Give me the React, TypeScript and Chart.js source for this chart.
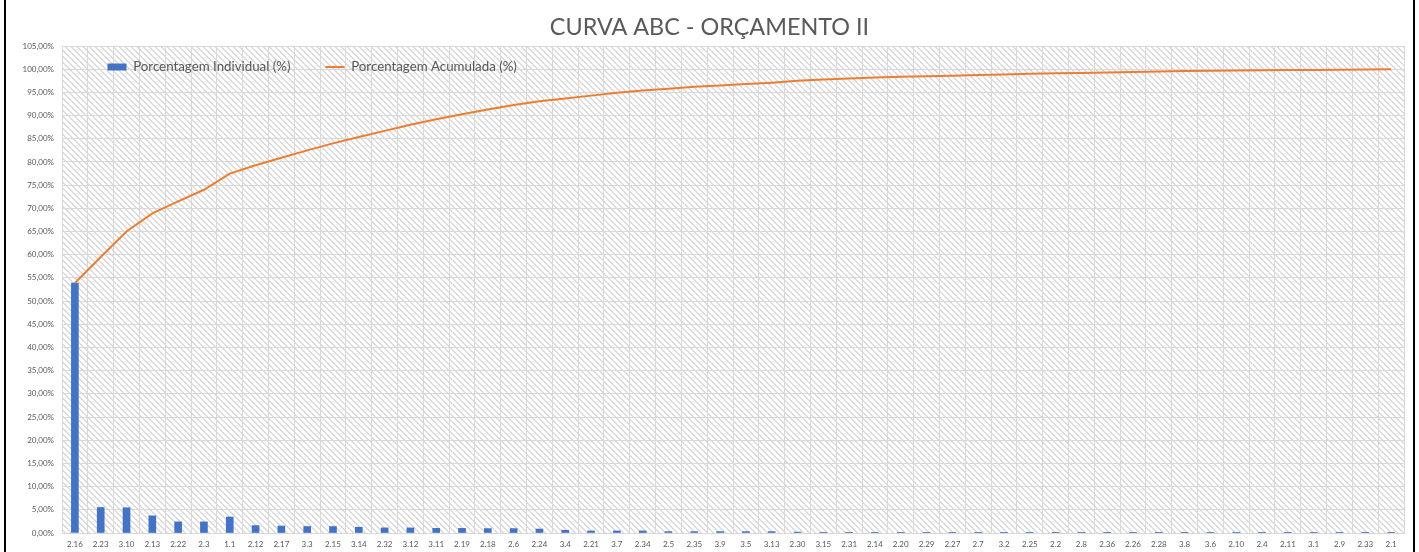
import React, { useEffect, useRef } from 'react';
import { Chart, registerables } from 'chart.js';

Chart.register(...registerables);

const TITLE = 'CURVA ABC - ORÇAMENTO II';
const BAR_LABEL = 'Porcentagem Individual (%)';
const LINE_LABEL = 'Porcentagem Acumulada (%)';

const categories = [
  '2.16', '2.23', '3.10', '2.13', '2.22', '2.3', '1.1', '2.12', '2.17', '3.3',
  '2.15', '3.14', '2.32', '3.12', '3.11', '2.19', '2.18', '2.6', '2.24', '3.4',
  '2.21', '3.7', '2.34', '2.5', '2.35', '3.9', '3.5', '3.13', '2.30', '3.15',
  '2.31', '2.14', '2.20', '2.29', '2.27', '2.7', '3.2', '2.25', '2.2', '2.8',
  '2.36', '2.26', '2.28', '3.8', '3.6', '2.10', '2.4', '2.11', '3.1', '2.9',
  '2.33', '2.1',
];

const individual = [
  53.9, 5.5, 5.45, 3.7, 2.4, 2.4, 3.45, 1.6, 1.5, 1.4,
  1.4, 1.25, 1.1, 1.1, 1.0, 1.0, 0.95, 0.95, 0.85, 0.6,
  0.45, 0.45, 0.45, 0.3, 0.3, 0.3, 0.3, 0.3, 0.2, 0.15,
  0.15, 0.15, 0.05, 0.05, 0.04, 0.04, 0.04, 0.03, 0.03, 0.03,
  0.03, 0.03, 0.02, 0.02, 0.02, 0.02, 0.02, 0.01, 0.01, 0.01,
  0.01, 0.01,
];

const cumulative = [
  53.9, 59.5, 65.0, 68.9, 71.5, 74.0, 77.5, 79.3, 80.9, 82.5,
  84.0, 85.4, 86.7, 88.0, 89.2, 90.3, 91.3, 92.3, 93.1, 93.7,
  94.3, 94.9, 95.4, 95.8, 96.2, 96.5, 96.8, 97.1, 97.5, 97.8,
  98.0, 98.2, 98.35, 98.5, 98.6, 98.75, 98.85, 99.0, 99.1, 99.2,
  99.3, 99.4, 99.5, 99.6, 99.65, 99.7, 99.75, 99.8, 99.85, 99.9,
  99.95, 100.0,
];

const Y_MIN = 0;
const Y_MAX = 105;
const Y_STEP = 5;

const BAR_COLOR = '#4472C4';
const LINE_COLOR = '#ED7D31';
const TEXT_COLOR = '#595959';
const GRID_COLOR = '#d9d9d9';
const HATCH_COLOR = '#dcdcdc';
const FONT = "Lato, 'Open Sans', sans-serif";

const TITLE_SIZE = 23.4;
const LEGEND_SIZE = 13.3;
const LEGEND_GAP = 35;

function makeHatch(ctx: CanvasRenderingContext2D) {
  const size = 6;
  const c = document.createElement('canvas');
  c.width = size;
  c.height = size;
  const p = c.getContext('2d') as CanvasRenderingContext2D;
  p.fillStyle = '#ffffff';
  p.fillRect(0, 0, size, size);
  p.fillStyle = HATCH_COLOR;
  for (let i = 0; i < size; i++) {
    p.fillRect(i, i, 1, 1);
    p.fillRect((i + 1) % size, i, 1, 1);
  }
  return ctx.createPattern(c, 'repeat');
}

const hatchPlugin = {
  id: 'hatchBackground',
  beforeDraw(chart: any) {
    const { ctx, chartArea } = chart;
    if (!chartArea) return;
    const pat = makeHatch(ctx);
    ctx.save();
    ctx.fillStyle = pat || '#f2f2f2';
    ctx.fillRect(chartArea.left, chartArea.top, chartArea.right - chartArea.left, chartArea.bottom - chartArea.top);
    ctx.restore();
  },
};

// The legend sits inside the plot area (as in the spreadsheet chart):
// it takes no layout space and is moved onto the plot after layout.
const legendPlacePlugin = {
  id: 'legendPlace',
  beforeLayout(chart: any) {
    const lg = chart.legend;
    if (lg && !lg.__patched) {
      const orig = lg.fit.bind(lg);
      lg.fit = function () {
        orig();
        this.height = 0;
      };
      lg.__patched = true;
    }
  },
  afterLayout(chart: any) {
    const lg = chart.legend;
    const ca = chart.chartArea;
    if (!lg || !ca) return;
    lg.left = ca.left + 45.5 - LEGEND_GAP;
    lg.right = ca.right;
    lg.top = ca.top + 21 - LEGEND_SIZE / 2 - LEGEND_GAP;
    lg.bottom = ca.bottom;
    lg.width = lg.right - lg.left;
    lg.height = lg.bottom - lg.top;
  },
};

export default function App() {
  const canvasRef = useRef<HTMLCanvasElement | null>(null);

  useEffect(() => {
    const canvas = canvasRef.current;
    if (!canvas) return;
    const chart = new Chart(canvas, {
      type: 'bar',
      data: {
        labels: categories,
        datasets: [
          {
            type: 'bar',
            label: BAR_LABEL,
            data: individual,
            backgroundColor: BAR_COLOR,
            borderWidth: 0,
            barThickness: 7,
            order: 1,
          },
          {
            type: 'line',
            label: LINE_LABEL,
            data: cumulative,
            borderColor: LINE_COLOR,
            backgroundColor: LINE_COLOR,
            borderWidth: 2,
            pointRadius: 0,
            tension: 0,
            fill: false,
            order: 0,
          } as any,
        ],
      },
      options: {
        animation: false,
        responsive: true,
        maintainAspectRatio: false,
        layout: { padding: 0 },
        plugins: {
          title: {
            display: true,
            text: TITLE,
            color: TEXT_COLOR,
            font: { family: FONT, size: TITLE_SIZE, weight: 'normal' },
            padding: { top: 13, bottom: 46 - 13 - TITLE_SIZE * 1.2 },
          },
          legend: {
            display: true,
            position: 'top',
            align: 'start',
            labels: {
              color: TEXT_COLOR,
              font: { family: FONT, size: LEGEND_SIZE },
              padding: LEGEND_GAP,
              boxWidth: 19,
              boxHeight: 7,
              usePointStyle: true,
              pointStyleWidth: 19,
              generateLabels: (ch: any) =>
                ch.data.datasets.map((ds: any, i: number) => ({
                  text: ds.label,
                  fillStyle: i === 0 ? BAR_COLOR : LINE_COLOR,
                  strokeStyle: i === 0 ? BAR_COLOR : LINE_COLOR,
                  lineWidth: i === 0 ? 0 : 2,
                  pointStyle: i === 0 ? 'rect' : 'line',
                  fontColor: TEXT_COLOR,
                  hidden: false,
                  datasetIndex: i,
                })),
            },
          },
          tooltip: { enabled: false },
        },
        scales: {
          x: {
            type: 'category',
            grid: { color: GRID_COLOR, offset: true, drawTicks: false },
            border: { color: GRID_COLOR },
            ticks: {
              color: TEXT_COLOR,
              font: { family: FONT, size: 8 },
              padding: 7,
              autoSkip: false,
              maxRotation: 0,
            },
            afterFit: (s: any) => {
              s.height = 19;
            },
          },
          y: {
            min: Y_MIN,
            max: Y_MAX,
            grid: { color: GRID_COLOR, drawTicks: false },
            border: { display: false },
            ticks: {
              stepSize: Y_STEP,
              color: TEXT_COLOR,
              font: { family: FONT, size: 8 },
              padding: 8,
              callback: (v: any) => Number(v).toFixed(2).replace('.', ',') + '%',
            },
            afterFit: (s: any) => {
              s.width = 62;
            },
          },
          yRightSpace: {
            position: 'right',
            min: Y_MIN,
            max: Y_MAX,
            grid: { display: false, drawOnChartArea: false },
            border: { display: false },
            ticks: { display: false },
            afterFit: (s: any) => {
              s.width = 15;
            },
          },
        },
      },
      plugins: [hatchPlugin, legendPlacePlugin],
    });
    return () => chart.destroy();
  }, []);

  return (
    <div style={{ position: 'absolute', left: 0, top: 0, width: 1419, height: 552, background: '#ffffff' }}>
      <div style={{ position: 'absolute', left: 0, top: 0, width: 1419, height: 552 }}>
        <canvas ref={canvasRef} />
      </div>
      <div style={{ position: 'absolute', left: 4, top: 0, width: 2, height: 552, background: '#000' }} />
      <div style={{ position: 'absolute', left: 1413, top: 0, width: 2, height: 552, background: '#000' }} />
    </div>
  );
}
